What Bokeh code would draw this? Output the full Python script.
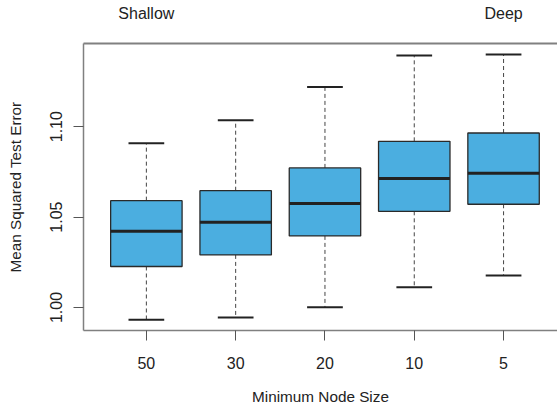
from bokeh.plotting import figure
from bokeh.models import FixedTicker, LinearAxis, PrintfTickFormatter, ColumnDataSource
from bokeh.embed import file_html
from bokeh.resources import INLINE

# ---- data ----
categories = ["50", "30", "20", "10", "5"]
upper_whisker = [1.0908, 1.1035, 1.1219, 1.1394, 1.1399]
q3 = [1.0591, 1.0646, 1.0772, 1.0919, 1.0965]
median = [1.0422, 1.0471, 1.0575, 1.0714, 1.0742]
q1 = [1.0227, 1.0291, 1.0396, 1.0532, 1.0571]
lower_whisker = [0.9932, 0.9945, 1.0002, 1.0112, 1.0177]
y_ticks = [1.00, 1.05, 1.10]
depth_labels = {1: "Shallow", 5: "Deep"}

FONT = "Liberation Sans"
TXT = "#222222"
FRAME = "#808080"

xpos = list(range(1, len(categories) + 1))
box_half = 0.4
cap_half = 0.2

src = ColumnDataSource(dict(
    x=xpos,
    left=[x - box_half for x in xpos],
    right=[x + box_half for x in xpos],
    cap_l=[x - cap_half for x in xpos],
    cap_r=[x + cap_half for x in xpos],
    uw=upper_whisker, q3=q3, med=median, q1=q1, lw=lower_whisker,
))

p = figure(width=557, height=408, x_range=(0.296, 5.604), y_range=(0.9873, 1.1460),
           output_backend="svg", toolbar_location=None,
           min_border_left=83, min_border_right=0, min_border_top=43, min_border_bottom=78,
           x_axis_label="Minimum Node Size", y_axis_label="Mean Squared Test Error")
p.outline_line_color = None
p.grid.visible = False
p.background_fill_color = "white"
p.border_fill_color = "white"

# whiskers
p.segment(x0="x", y0="q3", x1="x", y1="uw", source=src, line_color="#444444",
          line_width=1, line_dash="4 3")
p.segment(x0="x", y0="q1", x1="x", y1="lw", source=src, line_color="#444444",
          line_width=1, line_dash="4 3")
# caps
p.segment(x0="cap_l", y0="uw", x1="cap_r", y1="uw", source=src, line_color="#222222", line_width=2)
p.segment(x0="cap_l", y0="lw", x1="cap_r", y1="lw", source=src, line_color="#222222", line_width=2)
# boxes
p.quad(left="left", right="right", bottom="q1", top="q3", source=src,
       fill_color="#4BAEE0", line_color="#2a2a2a", line_width=1.3)
# medians
p.segment(x0="left", y0="med", x1="right", y1="med", source=src, line_color="#222222", line_width=3)

# bottom axis
xa = p.xaxis[0]
xa.ticker = FixedTicker(ticks=xpos)
xa.major_label_overrides = {x: c for x, c in zip(xpos, categories)}
xa.minor_tick_line_color = None
xa.major_tick_out = 10
xa.major_tick_in = 0
xa.major_label_standoff = 16
xa.axis_label_standoff = 16
xa.axis_line_color = FRAME
xa.axis_line_width = 1.5
xa.major_tick_line_color = "#555555"

# left axis
ya = p.yaxis[0]
ya.ticker = FixedTicker(ticks=y_ticks)
ya.formatter = PrintfTickFormatter(format="%.2f")
ya.major_label_orientation = "vertical"
ya.minor_tick_line_color = None
ya.major_tick_out = 10
ya.major_tick_in = 0
ya.major_label_standoff = 11
ya.axis_label_standoff = 24
ya.axis_line_color = FRAME
ya.axis_line_width = 1.5
ya.major_tick_line_color = "#555555"

for ax in (xa, ya):
    ax.major_label_text_font = FONT
    ax.major_label_text_font_size = "16px"
    ax.major_label_text_color = TXT
    ax.axis_label_text_font = FONT
    ax.axis_label_text_font_size = "15.3px"
    ax.axis_label_text_font_style = "normal"
    ax.axis_label_text_color = TXT

# top axis: frame line + Shallow / Deep
top = LinearAxis(ticker=FixedTicker(ticks=list(depth_labels.keys())),
                 major_label_overrides=depth_labels)
top.major_tick_line_color = None
top.minor_tick_line_color = None
top.major_tick_out = 0
top.major_tick_in = 0
top.major_label_standoff = 22
top.axis_line_color = FRAME
top.axis_line_width = 2
top.major_label_text_font = FONT
top.major_label_text_font_size = "16px"
top.major_label_text_color = TXT
p.add_layout(top, "above")

open("out.html", "w").write(file_html(p, INLINE))
